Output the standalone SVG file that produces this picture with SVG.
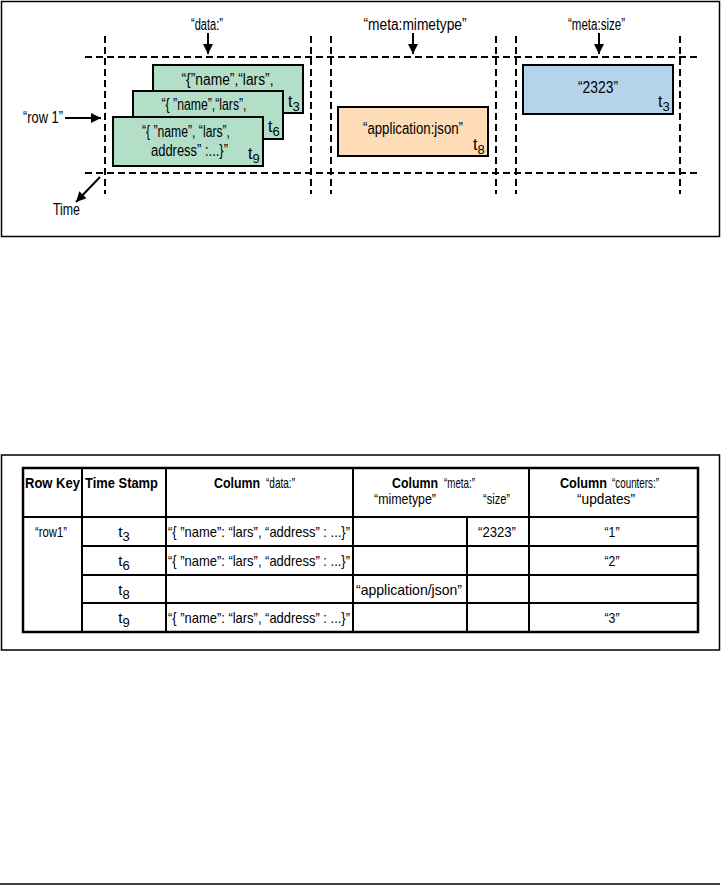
<svg xmlns="http://www.w3.org/2000/svg" width="722" height="886" viewBox="0 0 722 886">
<defs>
<marker id="ah" viewBox="0 0 10 10" refX="10" refY="5" markerWidth="10" markerHeight="10" markerUnits="userSpaceOnUse" orient="auto">
<path d="M0,0 L10,5 L0,10 z" fill="#000"/>
</marker>
</defs>
<style>
text{font-family:"Liberation Sans",Arial,sans-serif;font-size:16px;fill:#000}
.tb text{font-size:15px}
.c{text-anchor:middle}
.b{font-weight:bold}
.sub{font-size:13px}
.frame{fill:none;stroke:#000;stroke-width:1.5}
.dash{fill:none;stroke:#000;stroke-width:2;stroke-dasharray:7 4}
.arrow{fill:none;stroke:#000;stroke-width:2;marker-end:url(#ah)}
.cell{stroke:#000;stroke-width:2}
.green{fill:#b3dfc9;stroke:#000;stroke-width:2}
.orange{fill:#fddcb7;stroke:#000;stroke-width:2}
.blue{fill:#b3d4ea;stroke:#000;stroke-width:2}
</style>

<g id="top-frame"><rect class="frame" x="1.5" y="1.5" width="718" height="235"/></g>

<g id="grid">
<line class="dash" x1="85" y1="57" x2="700" y2="57"/>
<line class="dash" x1="85" y1="173" x2="700" y2="173"/>
<line class="dash" x1="105" y1="36" x2="105" y2="194"/>
<line class="dash" x1="311" y1="36" x2="311" y2="194"/>
<line class="dash" x1="331" y1="36" x2="331" y2="194"/>
<line class="dash" x1="496" y1="36" x2="496" y2="194"/>
<line class="dash" x1="516" y1="36" x2="516" y2="194"/>
<line class="dash" x1="680" y1="36" x2="680" y2="194"/>
</g>

<g id="connectors">
<line class="arrow" x1="208" y1="33" x2="208" y2="54"/>
<line class="arrow" x1="413" y1="33" x2="413" y2="54"/>
<line class="arrow" x1="599" y1="33" x2="599" y2="54"/>
<line class="arrow" x1="65" y1="118" x2="101" y2="118"/>
<line class="arrow" x1="100" y1="177" x2="76" y2="202"/>
</g>

<g id="labels">
<text class="c" x="207" y="30" textLength="32" lengthAdjust="spacingAndGlyphs">“data:”</text>
<text class="c" x="415" y="30" textLength="103" lengthAdjust="spacingAndGlyphs">“meta:mimetype”</text>
<text class="c" x="596.5" y="30" textLength="57" lengthAdjust="spacingAndGlyphs">“meta:size”</text>
<text x="23" y="123" textLength="40" lengthAdjust="spacingAndGlyphs">“row 1”</text>
<text class="c" x="66.5" y="215" textLength="27" lengthAdjust="spacingAndGlyphs">Time</text>
</g>

<g id="cell-t3">
<rect class="green" x="153" y="65" width="150" height="48"/>
<text class="c" x="227.5" y="85" textLength="92" lengthAdjust="spacingAndGlyphs">“{”name”,“lars”,</text>
<text x="288" y="107">t<tspan class="sub" dy="4">3</tspan></text>
</g>
<g id="cell-t6">
<rect class="green" x="133" y="91" width="150" height="48"/>
<text class="c" x="204" y="110" textLength="85" lengthAdjust="spacingAndGlyphs">“{ ”name”,“lars”,</text>
<text x="268" y="132">t<tspan class="sub" dy="4">6</tspan></text>
</g>
<g id="cell-t9">
<rect class="green" x="113" y="117" width="150" height="49"/>
<text class="c" x="186" y="137" textLength="88" lengthAdjust="spacingAndGlyphs">“{ ”name”, “lars”,</text>
<text class="c" x="189.5" y="156" textLength="77" lengthAdjust="spacingAndGlyphs">address” :...}”</text>
<text x="248" y="159">t<tspan class="sub" dy="4">9</tspan></text>
</g>
<g id="cell-mimetype">
<rect class="orange" x="338" y="107" width="150" height="49"/>
<text class="c" x="413" y="134" textLength="100" lengthAdjust="spacingAndGlyphs">“application:json”</text>
<text x="473" y="150">t<tspan class="sub" dy="4">8</tspan></text>
</g>
<g id="cell-size">
<rect class="blue" x="523" y="65" width="150" height="49"/>
<text class="c" x="598" y="93" textLength="40" lengthAdjust="spacingAndGlyphs">“2323”</text>
<text x="658" y="107">t<tspan class="sub" dy="4">3</tspan></text>
</g>

<g id="table-frame"><rect class="frame" x="1.5" y="455" width="718" height="195"/></g>

<g id="table" class="tb">
<rect x="23" y="468" width="675" height="164" fill="#fff" stroke="#000" stroke-width="2.5"/>
<line class="cell" x1="23" y1="517" x2="698" y2="517"/>
<line class="cell" x1="82" y1="546" x2="698" y2="546"/>
<line class="cell" x1="82" y1="575" x2="698" y2="575"/>
<line class="cell" x1="82" y1="603" x2="698" y2="603"/>
<line class="cell" x1="82" y1="468" x2="82" y2="632"/>
<line class="cell" x1="166" y1="468" x2="166" y2="632"/>
<line class="cell" x1="353" y1="468" x2="353" y2="632"/>
<line class="cell" x1="467" y1="517" x2="467" y2="632"/>
<line class="cell" x1="529" y1="468" x2="529" y2="632"/>

<text class="c b" x="52.5" y="488" textLength="55" lengthAdjust="spacingAndGlyphs">Row Key</text>
<text class="c b" x="121.5" y="488" textLength="73" lengthAdjust="spacingAndGlyphs">Time Stamp</text>

<text class="b" x="214" y="488" textLength="46" lengthAdjust="spacingAndGlyphs">Column</text>
<text x="266" y="488" textLength="29" lengthAdjust="spacingAndGlyphs">“data:”</text>

<text class="b" x="392" y="488" textLength="46" lengthAdjust="spacingAndGlyphs">Column</text>
<text x="444" y="488" textLength="31" lengthAdjust="spacingAndGlyphs">“meta:”</text>
<text x="374" y="504" textLength="62" lengthAdjust="spacingAndGlyphs">“mimetype”</text>
<text x="483" y="504" textLength="27" lengthAdjust="spacingAndGlyphs">“size”</text>

<text class="b" x="560" y="488" textLength="47" lengthAdjust="spacingAndGlyphs">Column</text>
<text x="612" y="488" textLength="47" lengthAdjust="spacingAndGlyphs">“counters:”</text>
<text x="577" y="504" textLength="58" lengthAdjust="spacingAndGlyphs">“updates”</text>

<text class="c" x="51" y="537" textLength="32" lengthAdjust="spacingAndGlyphs">“row1”</text>
<text class="c" x="124" y="537">t<tspan class="sub" dy="4">3</tspan></text>
<text x="168" y="537" textLength="182" lengthAdjust="spacingAndGlyphs">“{ ”name”: “lars”, “address” : ...}”</text>
<text class="c" x="497" y="537" textLength="38" lengthAdjust="spacingAndGlyphs">“2323”</text>
<text class="c" x="612" y="537" textLength="15" lengthAdjust="spacingAndGlyphs">“1”</text>

<text class="c" x="124" y="566">t<tspan class="sub" dy="4">6</tspan></text>
<text x="168" y="566" textLength="182" lengthAdjust="spacingAndGlyphs">“{ ”name”: “lars”, “address” : ...}”</text>
<text class="c" x="612" y="566" textLength="15" lengthAdjust="spacingAndGlyphs">“2”</text>

<text class="c" x="124" y="595">t<tspan class="sub" dy="4">8</tspan></text>
<text class="c" x="409" y="595" textLength="106" lengthAdjust="spacingAndGlyphs">“application/json”</text>

<text class="c" x="124" y="623">t<tspan class="sub" dy="4">9</tspan></text>
<text x="168" y="623" textLength="182" lengthAdjust="spacingAndGlyphs">“{ ”name”: “lars”, “address” : ...}”</text>
<text class="c" x="612" y="623" textLength="15" lengthAdjust="spacingAndGlyphs">“3”</text>
</g>

<g id="footer-rule"><line x1="0" y1="884" x2="720" y2="884" stroke="#000" stroke-width="1.5"/></g>
</svg>
